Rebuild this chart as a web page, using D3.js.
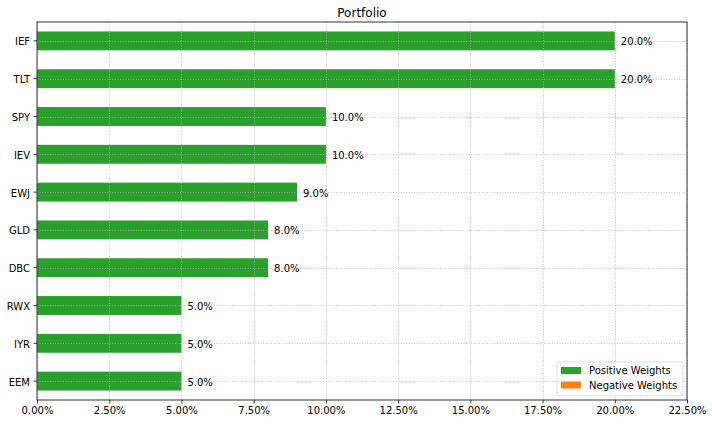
<!DOCTYPE html>
<html><head><meta charset="utf-8">
<script src="https://cdn.jsdelivr.net/npm/d3@7"></script>
<style>body{margin:0;background:#fff;}svg{display:block;font-family:"DejaVu Sans",sans-serif;}</style>
</head><body><svg id="c" width="712" height="424"></svg>
<script>
const categories = ["IEF","TLT","SPY","IEV","EWJ","GLD","DBC","RWX","IYR","EEM"];
const weights = [20.0,20.0,10.0,10.0,9.0,8.0,8.0,5.0,5.0,5.0];
const xTicks = [0,2.5,5,7.5,10,12.5,15,17.5,20,22.5];
const legendLabels = ["Positive Weights","Negative Weights"];
const legendColors = ["#2ca02c","#ff7f0e"];

const svg = d3.select("#c");
const m = {l:37, t:22, r:687, b:400};
const x = d3.scaleLinear().domain([0,22.5]).range([m.l,m.r]);
const y = d3.scaleBand().domain(categories).range([m.t,m.b]).paddingInner(0.5).paddingOuter(0.25);

// bars
svg.append("g").selectAll("rect").data(categories).join("rect")
  .attr("x", x(0)).attr("y", d=>y(d))
  .attr("width", (d,i)=>x(weights[i])-x(0)).attr("height", y.bandwidth())
  .attr("fill", "#2ca02c");

// grid
const g = svg.append("g").attr("stroke","#b0b0b0").attr("stroke-width",0.8).attr("stroke-dasharray","1,1.6");
g.selectAll("line.v").data(xTicks).join("line").attr("class","v")
  .attr("x1",d=>Math.round(x(d))+0.5).attr("x2",d=>Math.round(x(d))+0.5).attr("y1",m.t).attr("y2",m.b);
g.selectAll("line.h").data(categories).join("line").attr("class","h")
  .attr("y1",d=>Math.round(y(d)+y.bandwidth()/2)+0.5).attr("y2",d=>Math.round(y(d)+y.bandwidth()/2)+0.5).attr("x1",m.l).attr("x2",m.r);

// value labels
svg.append("g").selectAll("text").data(categories).join("text")
  .attr("x",(d,i)=>x(weights[i])+6).attr("y",d=>y(d)+y.bandwidth()/2)
  .attr("dy","0.45em").attr("font-size",10).attr("fill","#000")
  .text((d,i)=>weights[i].toFixed(1)+"%");

// axes
const xa = svg.append("g").attr("transform",`translate(0,${m.b})`)
  .call(d3.axisBottom(x).tickValues(xTicks).tickSize(3.5).tickPadding(3.5).tickFormat(d=>d.toFixed(2)+"%"));
const ya = svg.append("g").attr("transform",`translate(${m.l},0)`)
  .call(d3.axisLeft(y).tickSize(3.5).tickPadding(3.5));
[xa,ya].forEach(a=>{a.select(".domain").remove();a.selectAll("text").attr("font-size",10).attr("fill","#000").attr("font-family","DejaVu Sans");a.selectAll("line").attr("stroke","#000").attr("stroke-width",0.8);});
ya.selectAll("text").attr("dy","0.45em");

// frame
svg.append("rect").attr("x",m.l).attr("y",m.t).attr("width",m.r-m.l).attr("height",m.b-m.t)
  .attr("fill","none").attr("stroke","#000").attr("stroke-width",0.8);

// title
svg.append("text").attr("x",(m.l+m.r)/2).attr("y",m.t-5).attr("text-anchor","middle")
  .attr("font-size",12).text("Portfolio");

// legend
const lg = svg.append("g").attr("transform","translate(557,362)");
lg.append("rect").attr("width",126).attr("height",34).attr("rx",2.5).attr("fill","#fff").attr("fill-opacity",0.8)
  .attr("stroke","#d0d0d0").attr("stroke-width",0.8);
legendLabels.forEach((t,i)=>{
  lg.append("rect").attr("x",4).attr("y",5+i*14.5).attr("width",20).attr("height",7).attr("fill",legendColors[i]);
  lg.append("text").attr("x",32).attr("y",8.5+i*14.5).attr("dy","0.35em").attr("font-size",10).text(t);
});
</script></body></html>
